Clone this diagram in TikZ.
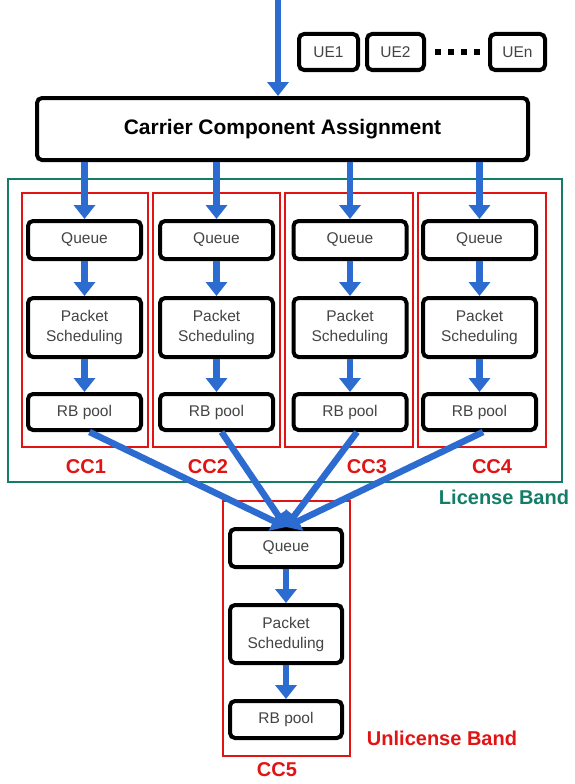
\documentclass[tikz,border=0pt]{standalone}
\usepackage{fontspec}
\setmainfont{Liberation Sans}
\usetikzlibrary{arrows.meta}
\definecolor{arblue}{RGB}{44,108,208}
\definecolor{lgreen}{RGB}{20,125,105}
\definecolor{ured}{RGB}{225,20,20}
\definecolor{txtgray}{RGB}{68,68,68}
\tikzset{
  blk/.style={draw=black, line width=4pt, rounded corners=5pt, fill=white, text=txtgray,
    font=\fontsize{15.5}{20}\selectfont, align=center, inner sep=0pt},
  ar/.style={draw=arblue, line width=6.5pt, -{Triangle[width=21pt,length=14pt]}},
  redbox/.style={draw=ured, line width=1.5pt},
  cclabel/.style={text=ured, font=\fontsize{20}{24}\selectfont\bfseries, inner sep=0pt},
}
\begin{document}
\begin{tikzpicture}[x=1pt,y=-1pt]
\fill[white] (0,0) rectangle (574,784);
\useasboundingbox (0,0) rectangle (574,784);

% green license band box
\draw[lgreen, line width=1.5pt] (8,179) rectangle (562,482);
% red CC boxes
\draw[redbox] (22,193) rectangle (148,447);
\draw[redbox] (153,193) rectangle (280,447);
\draw[redbox] (285,193) rectangle (413,447);
\draw[redbox] (418,193) rectangle (546,447);
\draw[redbox] (223,501) rectangle (350,756);

% main box
\node[blk, text=black, font=\fontsize{21}{24}\selectfont\bfseries,
  minimum width=491pt, minimum height=62pt] (cca) at (282.5,129) {Carrier Component Assignment};
\coordinate (topin) at (278,0);
\draw[ar] (topin) -- (topin |- cca.north);

% UE boxes
\node[blk, minimum width=59pt, minimum height=36pt] (ue1) at (328.5,52) {UE1};
\node[blk, minimum width=57pt, minimum height=36pt] (ue2) at (395.5,52) {UE2};
\node[blk, minimum width=55pt, minimum height=36pt] (uen) at (517.5,52) {UEn};
\draw[black, line width=5.5pt, dash pattern=on 6pt off 7pt] ([xshift=9pt]ue2.east) -- ([xshift=-8pt]uen.west);

% columns
\foreach \i/\x in {1/84.5, 2/216.5, 3/350, 4/479.5}{
  \node[blk, minimum width=113pt, minimum height=38pt] (q\i) at (\x,240) {Queue};
  \node[blk, minimum width=113pt, minimum height=59pt] (ps\i) at (\x,327.5) {Packet\\Scheduling};
  \node[blk, minimum width=113pt, minimum height=36pt] (rb\i) at (\x,412) {RB pool};
  \draw[ar] (q\i.north |- cca.south) -- (q\i.north);
  \draw[ar] (q\i.south) -- (ps\i.north);
  \draw[ar] (ps\i.south) -- (rb\i.north);
}

% CC5 column
\node[blk, minimum width=112pt, minimum height=38pt] (q5) at (286,548) {Queue};
\node[blk, minimum width=112pt, minimum height=58pt] (ps5) at (286,634) {Packet\\Scheduling};
\node[blk, minimum width=112pt, minimum height=37pt] (rb5) at (286,719.5) {RB pool};
\draw[ar] (q5.south) -- (ps5.north);
\draw[ar] (ps5.south) -- (rb5.north);

% converging lines
\draw[ar] ([xshift=5pt]rb1.south) -- (q5.north);
\draw[ar] ([xshift=5pt]rb2.south) -- (q5.north);
\draw[ar] ([xshift=7pt]rb3.south) -- (q5.north);
\draw[ar] ([xshift=3.5pt]rb4.south) -- (q5.north);

% labels
\node[cclabel] (l1) at (86,467) {CC1};
\node[cclabel] (l2) at (208,467) {CC2};
\node[cclabel] (l3) at (367,467) {CC3};
\node[cclabel] (l4) at (492,467) {CC4};
\node[cclabel] (l5) at (277,770) {CC5};
\node[cclabel, text=lgreen] (lb) at (504,497) {License Band};
\node[cclabel] (ub) at (442,738) {Unlicense Band};
\end{tikzpicture}
\end{document}
